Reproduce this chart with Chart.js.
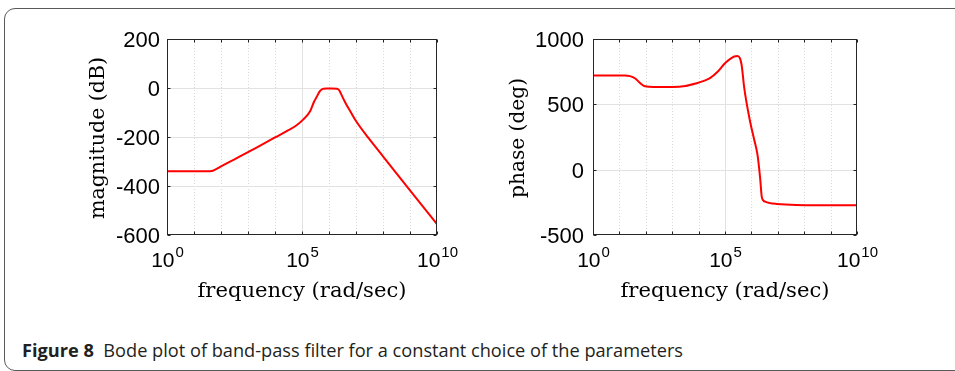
<!DOCTYPE html>
<html><head><meta charset="utf-8">
<script src="https://cdn.jsdelivr.net/npm/chart.js@4.4.1/dist/chart.umd.min.js"></script>
<style>
html,body{margin:0;padding:0;background:#fff;}
body{width:955px;height:371px;position:relative;overflow:hidden;}
#frame{position:absolute;left:4px;top:8px;width:1000px;height:361px;border:1.3px solid #5a5a5a;border-radius:11px;}
.wrap{position:absolute;top:0;height:310px;}
#cap{position:absolute;left:22px;top:338px;font-family:"Open Sans";font-size:18px;color:#231f20;white-space:nowrap;transform-origin:0 0;}
</style></head>
<body>
<div id="frame"></div>
<div class="wrap" style="left:0;width:480px"><canvas id="mag" width="480" height="310"></canvas></div>
<div class="wrap" style="left:480px;width:475px"><canvas id="ph" width="475" height="310"></canvas></div>
<div id="cap"><b>Figure 8</b>&nbsp; Bode plot of band-pass filter for a constant choice of the parameters</div>
<script>
// frequency axis, in log10 decades (rad/sec)
const decades=[0,1,2,3,4,5,6,7,8,9,10];
const labelDecades=[0,5,10];

// magnitude curve
const magLogW=[0,1.5,1.65,1.8,2.0,2.5,3.0,3.5,4.0,4.5,4.8,5.05,5.3,5.45,5.55,5.65,5.73,5.8,5.9,6.1,6.3,6.38,6.45,6.55,6.65,6.8,7.0,7.46,8.0,9.0,10];
const magDb=[-340,-340,-339,-332,-320,-291,-262,-232,-202,-172,-152,-128,-95,-55,-35,-15,-6,-3,-2,-2,-3,-10,-25,-48,-69,-97,-135,-204,-279,-418,-556];
const magTicks=[200,0,-200,-400,-600];

// phase curve
const phLogW=[0,1.2,1.4,1.6,1.8,1.97,2.3,3.0,3.5,3.9,4.2,4.43,4.7,5.0,5.2,5.35,5.47,5.56,5.63,5.73,5.95,6.1,6.23,6.33,6.39,6.45,6.52,6.7,6.96,7.7,8.5,10];
const phDeg=[720,720,716,698,660,638,633,633,640,660,680,700,745,815,848,866,870,855,801,624,369,235,115,-63,-204,-235,-245,-256,-262,-270,-272,-272];
const phTicks=[1000,500,0,-500];

function fitText(ctx,text,cx,cy,w,rot){
  ctx.save();ctx.translate(cx,cy);ctx.rotate(rot);
  const m=ctx.measureText(text).width;ctx.scale(w/m,1);
  ctx.textAlign='center';ctx.textBaseline='alphabetic';ctx.fillText(text,0,0);ctx.restore();
}

const bodeAxes={
  id:'bodeAxes',
  beforeDatasetsDraw(chart,args,o){
    const {ctx,chartArea:a,scales:{x,y}}=chart;
    ctx.save();ctx.lineWidth=1;
    decades.forEach(d=>{
      if(d===0||d===10)return;
      const px=Math.round(x.getPixelForValue(10**d))+0.5;
      const major=labelDecades.includes(d);
      ctx.strokeStyle=major?'#e2e2e2':'#d8d8d8';
      ctx.setLineDash(major?[]:[1,2]);
      ctx.beginPath();ctx.moveTo(px,a.top);ctx.lineTo(px,a.bottom);ctx.stroke();
    });
    ctx.setLineDash([]);ctx.strokeStyle='#e2e2e2';
    o.yTicks.forEach(v=>{
      if(v===y.min||v===y.max)return;
      const py=Math.round(y.getPixelForValue(v))+0.5;
      ctx.beginPath();ctx.moveTo(a.left,py);ctx.lineTo(a.right,py);ctx.stroke();
    });
    ctx.restore();
  },
  afterDatasetsDraw(chart,args,o){
    const {ctx,chartArea:a,scales:{x,y}}=chart;
    ctx.save();
    ctx.strokeStyle='#262626';ctx.lineWidth=1;
    const L=Math.round(a.left)+0.5,R=Math.round(a.right)-0.5,T=Math.round(a.top)+0.5,B=Math.round(a.bottom)-0.5;
    ctx.strokeRect(L,T,R-L,B-T);
    ctx.beginPath();
    decades.forEach(d=>{
      const px=Math.round(x.getPixelForValue(10**d))+0.5;
      ctx.moveTo(px,B);ctx.lineTo(px,B-3);ctx.moveTo(px,T);ctx.lineTo(px,T+3);
    });
    o.yTicks.forEach(v=>{
      const py=Math.round(y.getPixelForValue(v))+0.5;
      ctx.moveTo(L,py);ctx.lineTo(L+3,py);ctx.moveTo(R,py);ctx.lineTo(R-3,py);
    });
    ctx.stroke();
    // y tick labels
    ctx.fillStyle='#000';ctx.font='22px "Liberation Sans"';
    ctx.textAlign='right';ctx.textBaseline='alphabetic';
    o.yTicks.forEach(v=>{
      ctx.fillText(String(v),a.left-o.labelGap,y.getPixelForValue(v)+8);
    });
    // x tick labels 10^n
    labelDecades.forEach(d=>{
      const px=x.getPixelForValue(10**d);
      ctx.font='21px "Liberation Sans"';const wb=ctx.measureText('10').width;
      ctx.font='15px "Liberation Sans"';const ws=ctx.measureText(String(d)).width;
      const x0=px-(wb+ws)/2;
      ctx.textAlign='left';
      ctx.font='21px "Liberation Sans"';ctx.fillText('10',x0,a.bottom+32);
      ctx.font='15px "Liberation Sans"';ctx.fillText(String(d),x0+wb+1,a.bottom+22);
    });
    // axis titles
    ctx.font='20px "DejaVu Serif"';
    fitText(ctx,'frequency (rad/sec)',(a.left+a.right)/2,a.bottom+62,209,0);
    fitText(ctx,o.yTitle,o.yTitleX,(a.top+a.bottom)/2+1,o.yTitleW,-Math.PI/2);
    ctx.restore();
  }
};

function makeChart(id,logW,vals,ymin,ymax,pad,opt){
  return new Chart(document.getElementById(id).getContext('2d'),{
    type:'line',
    data:{datasets:[{data:logW.map((d,i)=>({x:10**d,y:vals[i]})),borderColor:'#ff0000',borderWidth:2,pointRadius:0,cubicInterpolationMode:'monotone',fill:false}]},
    options:{
      responsive:false,animation:false,
      layout:{padding:pad},
      scales:{
        x:{type:'logarithmic',min:1,max:1e10,display:false},
        y:{type:'linear',min:ymin,max:ymax,display:false}
      },
      plugins:{legend:{display:false},tooltip:{enabled:false},bodeAxes:opt}
    },
    plugins:[bodeAxes]
  });
}

makeChart('mag',magLogW,magDb,-600,200,{left:167,right:43,top:39,bottom:75},
  {yTicks:magTicks,yTitle:'magnitude (dB)',yTitleX:104,yTitleW:162,labelGap:7});
makeChart('ph',phLogW,phDeg,-500,1000,{left:113,right:98,top:39,bottom:75},
  {yTicks:phTicks,yTitle:'phase (deg)',yTitleX:44,yTitleW:120,labelGap:9});

// caption fitted to the reference width
const cap=document.getElementById('cap');
cap.style.transform='scaleX('+(661/cap.getBoundingClientRect().width)+')';
</script>
</body></html>
